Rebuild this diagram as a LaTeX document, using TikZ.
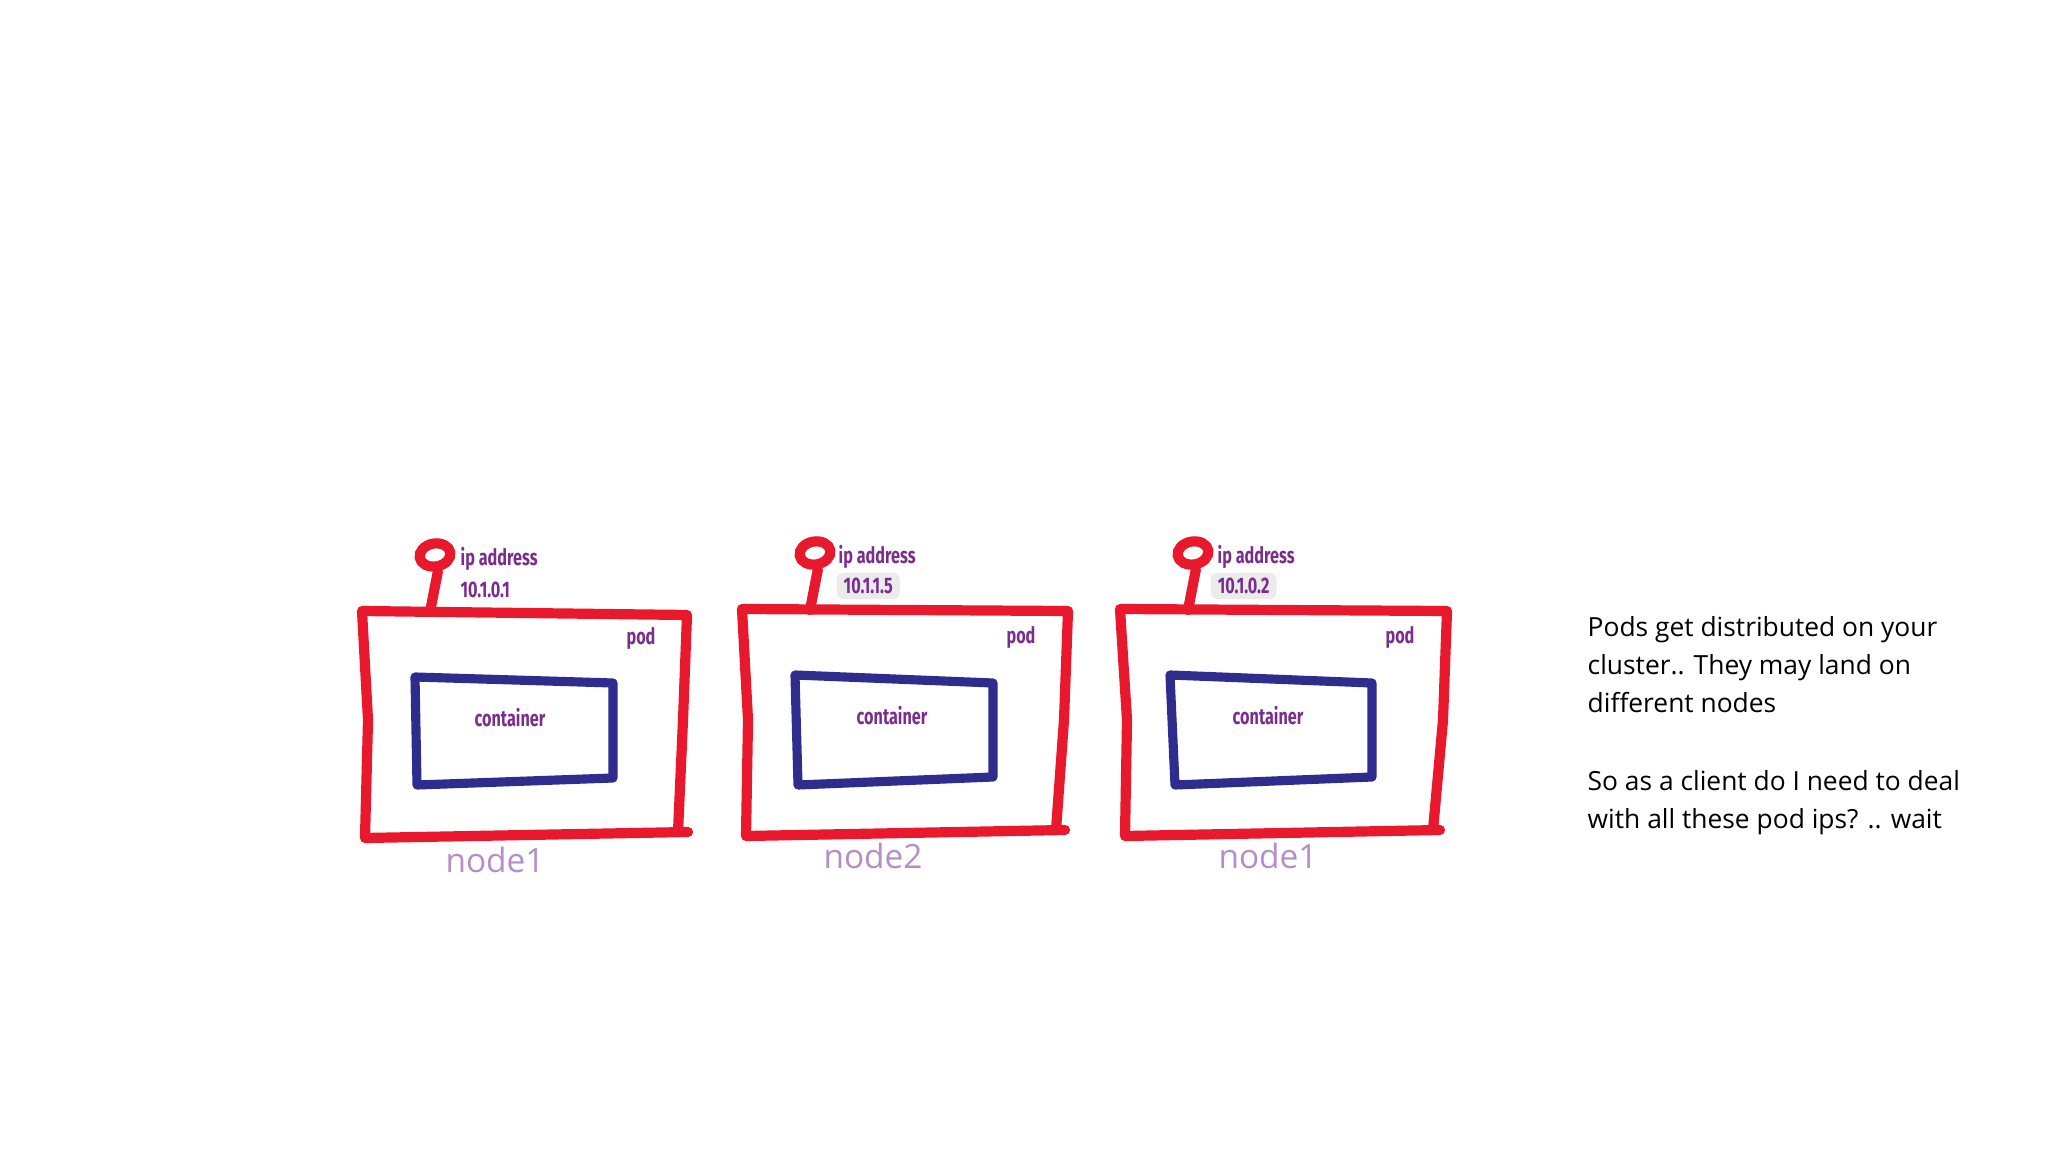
\documentclass[tikz,border=0pt]{standalone}
\usepackage{fontspec}
\setmainfont{Open Sans}
\newfontfamily\labelfont{Fira Sans}
\usetikzlibrary{shapes.geometric}
\definecolor{podred}{HTML}{E8192C}
\definecolor{ctrblue}{HTML}{2E2C8C}
\definecolor{labpurple}{HTML}{7B2D8E}
\definecolor{nodelav}{HTML}{B48DC9}
\newcommand{\narrow}[1]{\scalebox{0.72}[1]{#1}}

\begin{document}
\begin{tikzpicture}[x=0.01cm, y=-0.01cm,
  podline/.style={draw=podred, line width=2.9pt, line join=round, line cap=round},
  ctrline/.style={draw=ctrblue, line width=2.6pt, line join=round, line cap=round},
  antenna/.style={ellipse, draw=podred, line width=2.9pt, minimum width=0.31cm, minimum height=0.23cm, inner sep=0pt, rotate=10},
  purptext/.style={text=labpurple, font=\labelfont\bfseries\fontsize{6.4}{7}\selectfont, inner sep=0pt},
  iptext/.style={purptext, anchor=west},
  ipmark/.style={iptext, fill=black!8, rounded corners=2pt, inner xsep=2pt, inner ysep=1.5pt},
  nodetext/.style={text=nodelav, font=\fontsize{9.5}{10}\selectfont, inner sep=0pt},
  notetext/.style={anchor=north west, align=left, inner sep=0pt, font=\fontsize{7.5}{10.8}\selectfont}]
\useasboundingbox (0,0) rectangle (2048,1152);

\draw[podline] (688,832) -- (365,838) -- (368,720) -- (362,611) -- (687,615) -- (683,720) -- (678,832);
\draw[ctrline] (415,677) -- (613,683) -- (613,778) -- (417,785) -- cycle;
\node[antenna] (ant1) at (435,555) {};
\coordinate (top1) at (430,612);
\draw[podline] (ant1.south) -- (top1);
\node[iptext] (ipa1) at (460,559) {\narrow{ip address}};
\node[iptext] (ip1) at (460,590) {\narrow{10.1.0.1}};
\node[purptext] (pod1) at (641,638) {\narrow{pod}};
\node[purptext] (ctr1) at (510,718) {\narrow{container}};
\node[nodetext] (node1) at (495,860) {node1};

\draw[podline] (1065,830) -- (746,836) -- (748,720) -- (742,609) -- (1068,611) -- (1064,720) -- (1056,830);
\draw[ctrline] (795,675) -- (993,683) -- (993,777) -- (798,785) -- cycle;
\node[antenna] (ant2) at (815,553) {};
\coordinate (top2) at (810,610);
\draw[podline] (ant2.south) -- (top2);
\node[iptext] (ipa2) at (838,557) {\narrow{ip address}};
\node[ipmark] (ip2) at (836,586) {\narrow{10.1.1.5}\hspace{8pt}};
\node[purptext] (pod2) at (1021,637) {\narrow{pod}};
\node[purptext] (ctr2) at (892,716) {\narrow{container}};
\node[nodetext] (node2) at (873,856) {node2};

\draw[podline] (1440,830) -- (1125,836) -- (1127,720) -- (1120,609) -- (1447,611) -- (1443,720) -- (1433,830);
\draw[ctrline] (1170,675) -- (1372,683) -- (1372,777) -- (1175,785) -- cycle;
\node[antenna] (ant3) at (1193,553) {};
\coordinate (top3) at (1188,610);
\draw[podline] (ant3.south) -- (top3);
\node[iptext] (ipa3) at (1217,557) {\narrow{ip address}};
\node[ipmark] (ip3) at (1210,586) {\narrow{10.1.0.2}\hspace{6pt}};
\node[purptext] (pod3) at (1400,637) {\narrow{pod}};
\node[purptext] (ctr3) at (1268,716) {\narrow{container}};
\node[nodetext] (node3) at (1268,856) {node1};

\node[notetext] (note1) at (1587,616) {Pods get distributed on your\\cluster.. They may land on\\different nodes};
\node[notetext] (note2) at (1587,770) {So as a client do I need to deal\\with all these pod ips? .. wait};
\end{tikzpicture}
\end{document}
